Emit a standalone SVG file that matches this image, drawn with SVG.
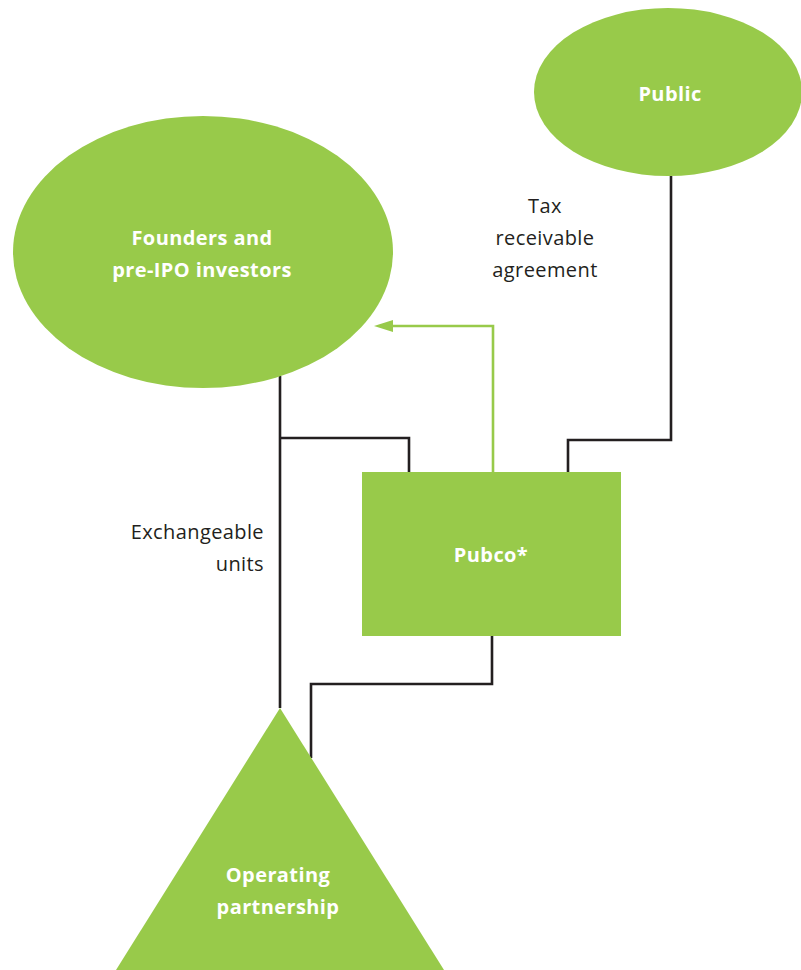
<svg xmlns="http://www.w3.org/2000/svg" width="801" height="970" viewBox="0 0 801 970">
<style>
.node{fill:#98ca4a}
.lbl{font-family:"Open Sans","Noto Sans","Liberation Sans",sans-serif;font-size:20px;letter-spacing:0.4px;font-weight:bold;fill:#ffffff;text-anchor:middle}
.txt{font-family:"Open Sans","Noto Sans","Liberation Sans",sans-serif;font-size:20px;letter-spacing:0.4px;fill:#231f20}
.ln{fill:none;stroke:#231f20;stroke-width:2.6}
.gl{fill:none;stroke:#98ca4a;stroke-width:2.6}
</style>
<rect width="801" height="970" fill="#ffffff"/>
<g id="connectors">
<polyline class="ln" points="280,376 280,708"/>
<polyline class="ln" points="280,438 409,438 409,472"/>
<polyline class="ln" points="671,176 671,440 568,440 568,472"/>
<polyline class="ln" points="492,636 492,684 311,684 311,758"/>
<polyline class="gl" points="493,472 493,326 392,326"/>
<path d="M374,326 L393,320 L393,332 Z" fill="#98ca4a"/>
</g>
<g id="founders">
<ellipse class="node" cx="203" cy="252" rx="190" ry="136"/>
<text class="lbl" x="202" y="245">Founders and</text>
<text class="lbl" x="202" y="277">pre-IPO investors</text>
</g>
<g id="public">
<ellipse class="node" cx="668" cy="92" rx="134" ry="84"/>
<text class="lbl" x="670" y="101">Public</text>
</g>
<g id="pubco">
<rect class="node" x="362" y="472" width="259" height="164"/>
<text class="lbl" x="491" y="562">Pubco*</text>
</g>
<g id="operating">
<polygon class="node" points="280,708 444,970 116,970"/>
<text class="lbl" x="278" y="882">Operating</text>
<text class="lbl" x="278" y="914">partnership</text>
</g>
<g id="labels">
<text class="txt" x="545" y="213" text-anchor="middle">Tax</text>
<text class="txt" x="545" y="245" text-anchor="middle">receivable</text>
<text class="txt" x="545" y="277" text-anchor="middle">agreement</text>
<text class="txt" x="264" y="539" text-anchor="end">Exchangeable</text>
<text class="txt" x="264" y="571" text-anchor="end">units</text>
</g>
</svg>
